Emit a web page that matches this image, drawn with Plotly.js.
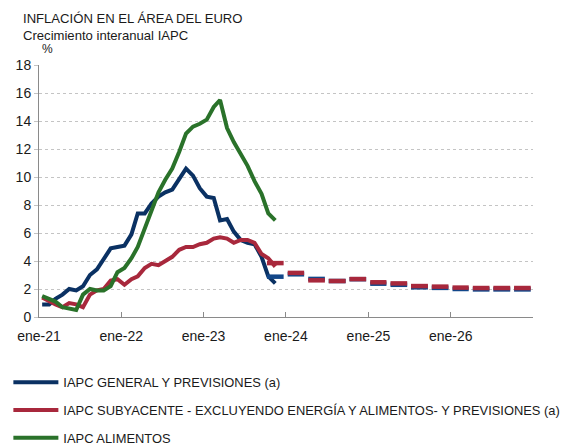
<!DOCTYPE html>
<html>
<head>
<meta charset="utf-8">
<script src="https://cdn.plot.ly/plotly-3.0.1.min.js"></script>
<style>html,body{margin:0;padding:0;background:#fff;}#chart{width:563px;height:443px;}</style>
</head>
<body>
<div id="chart"></div>
<script>
// Monthly observed data, Jan 2021 - Nov 2023
const months = [
  '2021-01','2021-02','2021-03','2021-04','2021-05','2021-06','2021-07','2021-08','2021-09','2021-10','2021-11','2021-12',
  '2022-01','2022-02','2022-03','2022-04','2022-05','2022-06','2022-07','2022-08','2022-09','2022-10','2022-11','2022-12',
  '2023-01','2023-02','2023-03','2023-04','2023-05','2023-06','2023-07','2023-08','2023-09','2023-10','2023-11'
];
const iapcGeneral = [0.9,0.9,1.3,1.6,2.0,1.9,2.2,3.0,3.4,4.1,4.9,5.0,
  5.1,5.9,7.4,7.4,8.1,8.6,8.9,9.1,9.9,10.6,10.1,9.2,
  8.6,8.5,6.9,7.0,6.1,5.5,5.3,5.2,4.3,2.9,2.4];
const iapcSubyacente = [1.4,1.1,0.9,0.7,1.0,0.9,0.7,1.6,1.9,2.0,2.6,2.7,
  2.3,2.7,2.9,3.5,3.8,3.7,4.0,4.3,4.8,5.0,5.0,5.2,
  5.3,5.6,5.7,5.6,5.3,5.5,5.5,5.3,4.5,4.2,3.6];
const iapcAlimentos = [1.5,1.3,1.1,0.7,0.6,0.5,1.6,2.0,1.9,1.9,2.2,3.2,
  3.5,4.2,5.0,6.3,7.5,8.9,9.8,10.6,11.8,13.1,13.6,13.8,
  14.1,15.0,15.5,13.5,12.5,11.6,10.8,9.7,8.8,7.4,6.9];

// Quarterly projections
const projQuarters = ['2023-Q4','2024-Q1','2024-Q2','2024-Q3','2024-Q4','2025-Q1','2025-Q2','2025-Q3','2025-Q4','2026-Q1','2026-Q2','2026-Q3','2026-Q4'];
const projGeneral = [2.88,3.05,2.72,2.57,2.70,2.38,2.30,2.12,2.08,2.00,1.97,1.97,1.97];
const projSubyacente = [3.85,3.15,2.62,2.57,2.71,2.48,2.40,2.21,2.17,2.10,2.07,2.07,2.07];

const tickYears = ['2021','2022','2023','2024','2025','2026','2027'];
const tickLabels = ['ene-21','ene-22','ene-23','ene-24','ene-25','ene-26',''];

const names = {
  general: 'IAPC GENERAL Y PREVISIONES (a)',
  sub: 'IAPC SUBYACENTE - EXCLUYENDO ENERGÍA Y ALIMENTOS- Y PREVISIONES (a)',
  alim: 'IAPC ALIMENTOS'
};
const colors = {general:'#0a3163', sub:'#a8283c', alim:'#2a722a', generalProj:'#124789', subProj:'#a8283c'};

// helpers derived from the data
const midMonth = months.map(m => m + '-15');
function pad(n){return (n<10?'0':'')+n;}
function quarterSegments(qs, vals){
  const xs=[], ys=[];
  qs.forEach((q,i)=>{
    const y = parseInt(q.slice(0,4),10);
    const qn = parseInt(q.slice(6),10);
    const sm = (qn-1)*3+1;
    const start = y+'-'+pad(sm)+'-09';
    const em = sm+2;
    const end = y+'-'+pad(em)+'-22';
    xs.push(start, end, null);
    ys.push(vals[i], vals[i], null);
  });
  return {xs, ys};
}
const pg = quarterSegments(projQuarters, projGeneral);
const ps = quarterSegments(projQuarters, projSubyacente);

const traces = [
  {x: midMonth, y: iapcGeneral, type:'scatter', mode:'lines', name:names.general, legendgroup:'g1',
   line:{color:colors.general, width:4}},
  {x: midMonth, y: iapcSubyacente, type:'scatter', mode:'lines', name:names.sub, legendgroup:'g2',
   line:{color:colors.sub, width:4}},
  {x: midMonth, y: iapcAlimentos, type:'scatter', mode:'lines', name:names.alim, legendgroup:'g3',
   line:{color:colors.alim, width:4}},
  {x: pg.xs, y: pg.ys, type:'scatter', mode:'lines', showlegend:false, connectgaps:false, hoverinfo:'skip',
   line:{color:colors.generalProj, width:4.5}},
  {x: ps.xs, y: ps.ys, type:'scatter', mode:'lines', showlegend:false, connectgaps:false, hoverinfo:'skip',
   line:{color:colors.subProj, width:4.5}}
];

const font = {family:'"Liberation Sans", Arial, sans-serif', color:'#1a1a1a'};
const layout = {
  width:563, height:443,
  margin:{l:39, r:30, t:65, b:126, autoexpand:false},
  paper_bgcolor:'#fff', plot_bgcolor:'#fff',
  font:Object.assign({size:13}, font),
  showlegend:true,
  legend:{orientation:'v', x:-0.062, xanchor:'left', y:-0.2, yanchor:'top',
    font:Object.assign({size:12.9}, font), tracegroupgap:8, itemwidth:45, bgcolor:'rgba(0,0,0,0)'},
  xaxis:{type:'date', range:['2021-01-01','2027-01-01'],
    tickvals: tickYears.map(y=>y+'-01-01'), ticktext: tickLabels,
    ticks:'inside', ticklen:5, tickcolor:'#8a8a8a', showgrid:false,
    showline:true, linecolor:'#8a8a8a', linewidth:1, zeroline:false,
    tickfont:Object.assign({size:14}, font), ticklabelstandoff:6, fixedrange:true},
  yaxis:{range:[0,18], dtick:2, tick0:0, showgrid:true, gridcolor:'#c4c4c4', griddash:'3px,3px', gridwidth:1,
    ticks:'outside', ticklen:4, tickcolor:'#c4c4c4', showline:true, linecolor:'#8a8a8a', linewidth:1,
    zeroline:false, tickfont:Object.assign({size:14}, font), fixedrange:true},
  annotations:[
    {xref:'paper', yref:'paper', x:-0.037, y:1.183, xanchor:'left', yanchor:'middle', showarrow:false,
     text:'INFLACIÓN EN EL ÁREA DEL EURO', font:Object.assign({size:13.1}, font)},
    {xref:'paper', yref:'paper', x:-0.037, y:1.119, xanchor:'left', yanchor:'middle', showarrow:false,
     text:'Crecimiento interanual IAPC', font:Object.assign({size:13.1}, font)},
    {xref:'paper', yref:'paper', x:0.018, y:1.064, xanchor:'center', yanchor:'middle', showarrow:false,
     text:'%', font:Object.assign({size:12}, font)}
  ]
};
Plotly.newPlot('chart', traces, layout, {displayModeBar:false, staticPlot:true});
</script>
</body>
</html>
